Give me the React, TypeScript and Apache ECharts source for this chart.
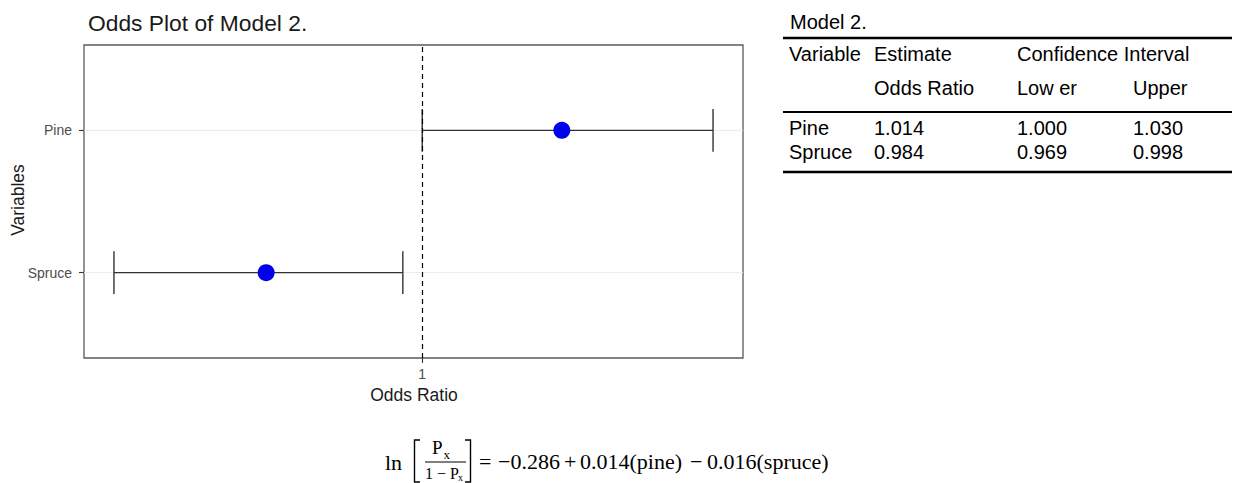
import React, { useEffect, useRef } from 'react';
import * as echarts from 'echarts';

// ---- plot data ----
const categories = ['Pine', 'Spruce'];
const oddsEstimate = [1.0144, 0.9839];
const ciLower = [1.0, 0.9682];
const ciUpper = [1.03, 0.998];
const xTickValues = [1];
const referenceOdds = 1;

// ---- table data ----
const tableTitle = 'Model 2.';
const tableHeader1 = ['Variable', 'Estimate', 'Confidence Interval'];
const tableHeader2 = ['', 'Odds Ratio', 'Low er', 'Upper'];
const tableVariables = ['Pine', 'Spruce'];
const tableEstimate = ['1.014', '0.984'];
const tableLower = ['1.000', '0.969'];
const tableUpper = ['1.030', '0.998'];

// ---- equation ----
const eqTerms = ['=', '\u22120.286', '+', '0.014(pine)', '\u2212', '0.016(spruce)'];

const SANS = "'Liberation Sans', Arial, Helvetica, sans-serif";
const SERIF = "'Liberation Serif', 'Times New Roman', serif";

export default function App() {
  const ref = useRef<HTMLDivElement>(null);
  useEffect(() => {
    document.body.style.margin = '0';
    const chart = echarts.init(ref.current!, null, { renderer: 'svg' });

    const yPos = categories.map((_, i) => categories.length - i);
    const lo = Math.min(...ciLower);
    const hi = Math.max(...ciUpper);
    const pad = (hi - lo) * 0.05;
    const xMin = lo - pad;
    const xMax = hi + pad;

    const errData = categories.map((_, i) => [ciLower[i], ciUpper[i], yPos[i]]);
    const ptData = categories.map((_, i) => [oddsEstimate[i], yPos[i]]);
    const gridData = yPos.map((y) => [xMin, y]);

    const tableCols = [789, 874, 1017, 1133];
    const tableFont = { fontSize: 20, fontFamily: SANS, fill: '#000' };
    const txt = (text: string, x: number, y: number, extra: any = {}) => ({
      type: 'text',
      x,
      y,
      silent: true,
      style: { text, ...tableFont, verticalAlign: 'middle', align: 'left', ...extra },
    });
    const hline = (x1: number, x2: number, y: number, w: number) => ({
      type: 'line',
      silent: true,
      shape: { x1, y1: y, x2, y2: y },
      style: { stroke: '#000', lineWidth: w },
    });

    const graphics: any[] = [];
    // title & axis titles
    graphics.push(txt('Odds Plot of Model 2.', 88, 23, { fontSize: 22.8, fill: '#1a1a1a' }));
    graphics.push(txt('Odds Ratio', 414, 395, { fontSize: 17.5, fill: '#1a1a1a', align: 'center' }));
    graphics.push({
      type: 'text',
      x: 18,
      y: 200,
      rotation: Math.PI / 2,
      silent: true,
      style: { text: 'Variables', fontSize: 17.5, fontFamily: SANS, fill: '#1a1a1a', align: 'center', verticalAlign: 'middle' },
    });

    // table
    graphics.push(txt(tableTitle, 790, 22));
    graphics.push(hline(783, 1232, 38, 2.5));
    graphics.push(txt(tableHeader1[0], tableCols[0], 54));
    graphics.push(txt(tableHeader1[1], tableCols[1], 54));
    graphics.push(txt(tableHeader1[2], tableCols[2], 54));
    tableHeader2.forEach((t, i) => {
      if (t) graphics.push(txt(t, tableCols[i], 88));
    });
    graphics.push(hline(783, 1232, 112, 2));
    const rowY = [128, 152];
    tableVariables.forEach((v, i) => {
      graphics.push(txt(v, tableCols[0], rowY[i]));
      graphics.push(txt(tableEstimate[i], tableCols[1], rowY[i]));
      graphics.push(txt(tableLower[i], tableCols[2], rowY[i]));
      graphics.push(txt(tableUpper[i], tableCols[3], rowY[i]));
    });
    graphics.push(hline(783, 1232, 172, 2.5));

    // equation
    const eqFont = { fontFamily: SERIF, fill: '#000' };
    graphics.push(txt('ln', 385, 462, { ...eqFont, fontSize: 22 }));
    graphics.push({
      type: 'polyline', silent: true,
      shape: { points: [[420, 440], [414.5, 440], [414.5, 482], [420, 482]] },
      style: { stroke: '#000', lineWidth: 1.4, fill: 'none' },
    });
    graphics.push({
      type: 'polyline', silent: true,
      shape: { points: [[465, 440], [470.5, 440], [470.5, 482], [465, 482]] },
      style: { stroke: '#000', lineWidth: 1.4, fill: 'none' },
    });
    graphics.push(txt('P', 432, 447, { ...eqFont, fontSize: 19 }));
    graphics.push(txt('x', 443.5, 454, { ...eqFont, fontSize: 13 }));
    graphics.push({
      type: 'line', silent: true,
      shape: { x1: 425, y1: 462, x2: 466, y2: 462 },
      style: { stroke: '#000', lineWidth: 1 },
    });
    graphics.push(txt('1 \u2212 P', 425, 473, { ...eqFont, fontSize: 16 }));
    graphics.push(txt('x', 458, 477, { ...eqFont, fontSize: 10 }));
    const eqX = [479, 498, 564, 580, 690, 707];
    eqTerms.forEach((t, i) => {
      graphics.push(txt(t, eqX[i], 461, { ...eqFont, fontSize: 22 }));
    });

    const option: any = {
      animation: false,
      backgroundColor: '#fff',
      grid: {
        left: 84,
        top: 45,
        width: 659,
        height: 313,
        show: true,
        borderColor: '#5a5a5a',
        borderWidth: 1.3,
        backgroundColor: 'transparent',
        containLabel: false,
      },
      xAxis: {
        type: 'value',
        min: xMin,
        max: xMax,
        axisLine: { show: false },
        splitLine: { show: false },
        axisTick: { show: true, customValues: xTickValues, length: 5, lineStyle: { color: '#333', width: 1.1 } },
        axisLabel: {
          customValues: xTickValues,
          formatter: (v: number) => String(v),
          margin: 9,
          fontSize: 14,
          fontFamily: SANS,
          color: '#4d4d4d',
        },
      },
      yAxis: {
        type: 'value',
        min: 0.4,
        max: categories.length + 0.6,
        axisLine: { show: false },
        splitLine: { show: false },
        axisTick: { show: true, customValues: yPos, length: 5, lineStyle: { color: '#333', width: 1.1 } },
        axisLabel: {
          customValues: yPos,
          formatter: (v: number) => categories[categories.length - Math.round(v)] ?? '',
          margin: 12,
          fontSize: 14,
          fontFamily: SANS,
          color: '#4d4d4d',
        },
      },
      series: [
        {
          type: 'custom',
          z: 1,
          silent: true,
          data: gridData,
          encode: { x: 0, y: 1 },
          renderItem: (params: any, api: any) => {
            const p = api.coord([api.value(0), api.value(1)]);
            const cs = params.coordSys;
            return {
              type: 'line',
              shape: { x1: cs.x, y1: p[1], x2: cs.x + cs.width, y2: p[1] },
              style: { stroke: '#ebebeb', lineWidth: 1 },
            };
          },
        },
        {
          type: 'custom',
          z: 3,
          silent: true,
          data: errData,
          encode: { x: [0, 1], y: 2 },
          renderItem: (params: any, api: any) => {
            const a = api.value(0);
            const b = api.value(1);
            const y = api.value(2);
            const p1 = api.coord([a, y]);
            const p2 = api.coord([b, y]);
            const t = api.coord([a, y + 0.15]);
            const bt = api.coord([a, y - 0.15]);
            const st = { stroke: '#333', lineWidth: 1.4 };
            return {
              type: 'group',
              children: [
                { type: 'line', shape: { x1: p1[0], y1: p1[1], x2: p2[0], y2: p2[1] }, style: st },
                { type: 'line', shape: { x1: p1[0], y1: t[1], x2: p1[0], y2: bt[1] }, style: st },
                { type: 'line', shape: { x1: p2[0], y1: t[1], x2: p2[0], y2: bt[1] }, style: st },
              ],
            };
          },
        },
        {
          type: 'scatter',
          z: 4,
          silent: true,
          symbol: 'circle',
          symbolSize: 17,
          itemStyle: { color: '#0000ee', opacity: 1 },
          data: ptData,
          markLine: {
            silent: true,
            symbol: 'none',
            label: { show: false },
            lineStyle: { color: '#000', width: 1.2, type: [5, 4] },
            data: [{ xAxis: referenceOdds }],
          },
        },
      ],
      graphic: graphics,
    };
    chart.setOption(option);
    return () => chart.dispose();
  }, []);
  return <div ref={ref} style={{ width: 1233, height: 483 }} />;
}
